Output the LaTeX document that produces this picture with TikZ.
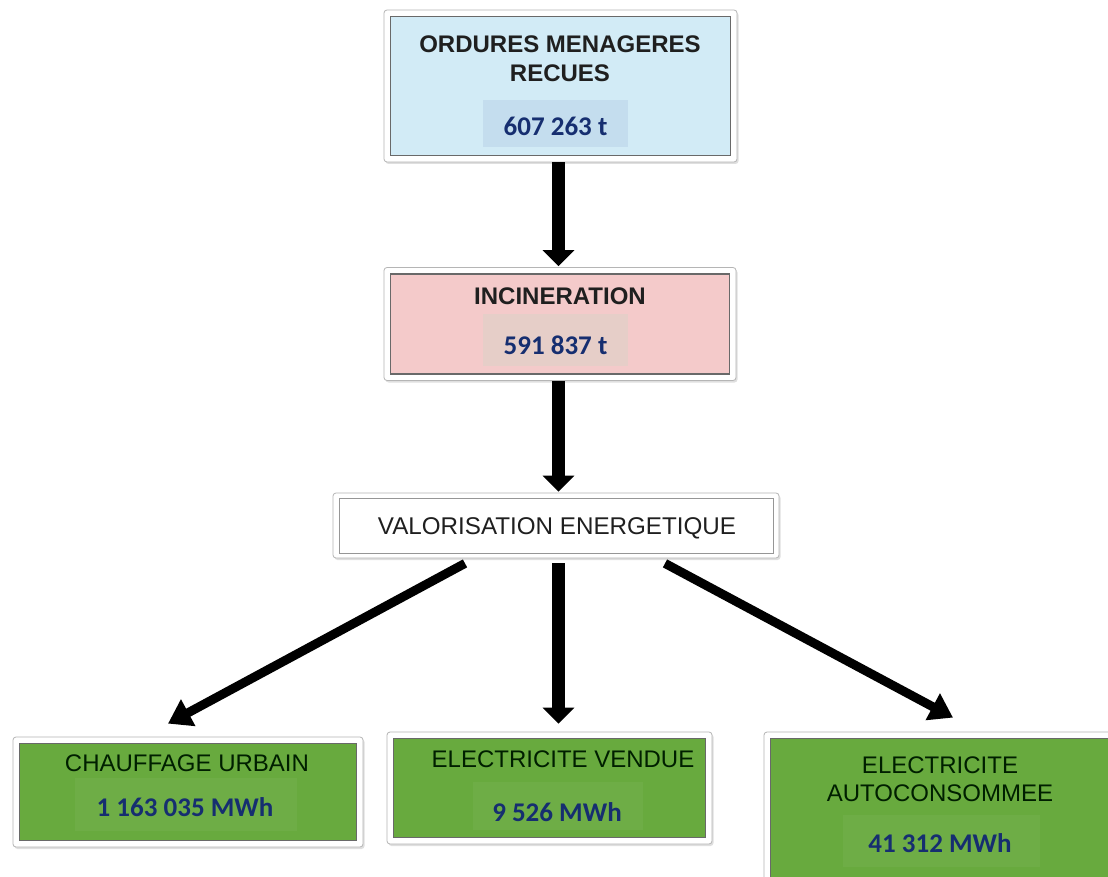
\documentclass[tikz,border=0pt]{standalone}
\usepackage{fontspec}
\setmainfont{Liberation Sans}
\newfontfamily\valfont{Carlito}
\usetikzlibrary{arrows.meta,shadows}
\definecolor{bluefill}{RGB}{210,235,246}
\definecolor{bluevalue}{RGB}{196,221,238}
\definecolor{pinkfill}{RGB}{244,202,202}
\definecolor{pinkvalue}{RGB}{230,206,200}
\definecolor{greenfill}{RGB}{104,170,62}
\definecolor{greenvalue}{RGB}{110,173,70}
\definecolor{navy}{RGB}{22,46,112}
\definecolor{frame}{RGB}{150,150,150}
\definecolor{bevel}{RGB}{105,105,105}
\tikzset{
  outerbox/.style={draw=frame!70, line width=0.8pt, fill=white, rounded corners=3pt,
    drop shadow={opacity=0.25, shadow xshift=1.5pt, shadow yshift=-2pt}, inner sep=0pt},
  innerbox/.style={draw=bevel, line width=1.6pt},
  valbox/.style={inner sep=0pt},
  lbl/.style={font=\fontsize{24.2}{28}\selectfont, text=black!88, inner sep=0pt, align=center},
  lblb/.style={font=\bfseries\fontsize{24}{29}\selectfont, text=black!88, inner sep=0pt, align=center},
  glbl/.style={font=\fontsize{24}{28}\selectfont, text=black!80!green!60!black, inner sep=0pt, align=center},
  val/.style={font=\valfont\bfseries\fontsize{27}{30}\selectfont, text=navy, inner sep=0pt},
  bigarr/.style={line width=13pt, -{Triangle[width=31pt,length=16pt]}},
  diagarr/.style={line width=9pt, -{Triangle[width=29pt,length=23pt]}}
}
\begin{document}
\begin{tikzpicture}[x=1pt,y=-1pt]
\useasboundingbox (0,0) rectangle (1108,877);
\fill[white] (0,0) rectangle (1108,877);
\coordinate (ax) at (558.5,0);
\begin{scope}
\clip (0,0) rectangle (1108,877);
% Box 1
\node[outerbox, minimum width=353pt, minimum height=152pt] (b1) at (560.5,86) {};
\draw[innerbox, fill=bluefill] ([shift={(7pt,-7pt)}]b1.north west) rectangle ([shift={(-7pt,7pt)}]b1.south east);
\node[valbox, fill=bluevalue, minimum width=145pt, minimum height=47pt] (v1r) at (555.5,123.5) {};
\node[lblb] (t1) at (560,58.5) {ORDURES MENAGERES\\RECUES};
\node[val] (v1) at (555.5,126) {607 263 t};
% Box 2
\node[outerbox, minimum width=352pt, minimum height=113pt] (b2) at (560,324) {};
\draw[innerbox, fill=pinkfill] ([shift={(7pt,-7pt)}]b2.north west) rectangle ([shift={(-7pt,7pt)}]b2.south east);
\node[valbox, fill=pinkvalue, minimum width=145pt, minimum height=52pt] (v2r) at (555.5,340) {};
\node[lblb] (t2) at (560,296) {INCINERATION};
\node[val] (v2) at (555.5,345) {591 837 t};
% Box 3
\node[outerbox, minimum width=446pt, minimum height=65pt] (b3) at (556,525.5) {};
\draw[innerbox, draw=bevel!70, fill=white] ([shift={(7pt,-6pt)}]b3.north west) rectangle ([shift={(-6pt,5pt)}]b3.south east);
\node[lbl] (t3) at (557,528) {VALORISATION ENERGETIQUE};
% Box 4
\node[outerbox, minimum width=350pt, minimum height=110pt] (b4) at (188,792) {};
\draw[innerbox, fill=greenfill] ([shift={(7pt,-7pt)}]b4.north west) rectangle ([shift={(-7pt,7pt)}]b4.south east);
\node[valbox, fill=greenvalue, minimum width=222pt, minimum height=53pt] (v4r) at (186,804.5) {};
\node[glbl] (t4) at (187,763) {CHAUFFAGE URBAIN};
\node[val] (v4) at (185,807) {1 163 035 MWh};
% Box 5
\node[outerbox, minimum width=325pt, minimum height=112pt] (b5) at (549.5,788) {};
\draw[innerbox, fill=greenfill] ([shift={(7pt,-7pt)}]b5.north west) rectangle ([shift={(-7pt,7pt)}]b5.south east);
\node[valbox, fill=greenvalue, minimum width=170pt, minimum height=48pt] (v5r) at (558,806) {};
\node[glbl] (t5) at (563,759) {ELECTRICITE VENDUE};
\node[val] (v5) at (557,812) {9 526 MWh};
% Box 6 (cut by the edge)
\node[outerbox, minimum width=354pt, minimum height=160pt] (b6) at (941,812) {};
\draw[innerbox, fill=greenfill] ([shift={(7pt,-7pt)}]b6.north west) rectangle ([shift={(-7pt,7pt)}]b6.south east);
\node[valbox, fill=greenvalue, minimum width=197pt, minimum height=52pt] (v6r) at (941.5,841) {};
\node[glbl] (t6) at (940,779) {ELECTRICITE\\AUTOCONSOMMEE};
\node[val] (v6) at (940,843) {41 312 MWh};
\end{scope}
% Arrows
\draw[bigarr] (b1.south -| ax) -- ([yshift=1pt]b2.north -| ax);
\draw[bigarr] (b2.south -| ax) -- ([yshift=1pt]b3.north -| ax);
\draw[diagarr] ([xshift=-91pt,yshift=-5pt]b3.south) -- ([xshift=-20pt,yshift=13pt]b4.north);
\draw[bigarr] ([yshift=-5pt]b3.south -| ax) -- ([yshift=8pt]b5.north -| ax);
\draw[diagarr] ([xshift=109pt,yshift=-5pt]b3.south) -- ([xshift=12pt,yshift=14pt]b6.north);
\end{tikzpicture}
\end{document}
